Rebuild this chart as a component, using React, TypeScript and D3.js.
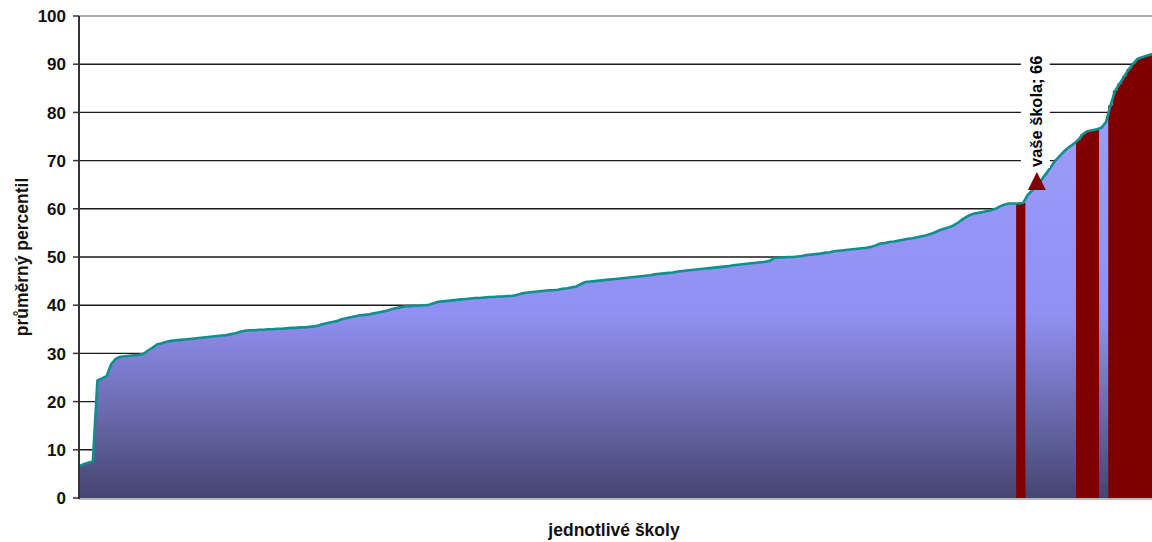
import React from "react";
import * as d3 from "d3";

// average percentile of each school, sorted ascending
const schoolValues: number[] = [
  6.6, 7.0, 7.3, 7.6, 24.4, 24.8, 25.3, 27.8, 28.9, 29.3,
  29.4, 29.5, 29.6, 29.7, 29.9, 30.6, 31.2, 31.9, 32.1, 32.4,
  32.6, 32.7, 32.8, 32.9, 33.0, 33.1, 33.2, 33.3, 33.4, 33.5,
  33.6, 33.7, 33.8, 34.0, 34.2, 34.5, 34.7, 34.8, 34.8, 34.9,
  34.9, 35.0, 35.0, 35.1, 35.1, 35.2, 35.3, 35.3, 35.4, 35.4,
  35.5, 35.6, 35.8, 36.1, 36.3, 36.5, 36.7, 37.1, 37.3, 37.5,
  37.7, 37.9, 38.0, 38.1, 38.3, 38.5, 38.7, 38.9, 39.2, 39.4,
  39.6, 39.8, 39.8, 39.9, 39.9, 40.0, 40.1, 40.4, 40.7, 40.8,
  40.9, 41.0, 41.1, 41.2, 41.3, 41.4, 41.5, 41.5, 41.6, 41.7,
  41.7, 41.8, 41.8, 41.9, 41.9, 42.1, 42.4, 42.6, 42.7, 42.8,
  42.9, 43.0, 43.1, 43.1, 43.2, 43.4, 43.5, 43.7, 43.9, 44.4,
  44.8, 44.9, 45.0, 45.1, 45.2, 45.3, 45.4, 45.5, 45.6, 45.7,
  45.8, 45.9, 46.0, 46.1, 46.2, 46.4, 46.5, 46.6, 46.7, 46.8,
  47.0, 47.1, 47.2, 47.3, 47.4, 47.5, 47.6, 47.7, 47.8, 47.9,
  48.0, 48.1, 48.3, 48.4, 48.5, 48.6, 48.7, 48.8, 48.9, 49.0,
  49.2, 49.8, 49.9, 49.9, 50.0, 50.0, 50.1, 50.2, 50.4, 50.5,
  50.6, 50.7, 50.9, 51.0, 51.2, 51.3, 51.4, 51.5, 51.6, 51.7,
  51.8, 51.9, 52.1, 52.4, 52.8, 52.9, 53.1, 53.2, 53.4, 53.6,
  53.8, 53.9, 54.1, 54.3, 54.5, 54.8, 55.2, 55.6, 55.9, 56.2,
  56.6, 57.2, 57.9, 58.5, 58.9, 59.1, 59.3, 59.5, 59.7, 60.0,
  60.5, 60.9, 61.1, 61.1, 61.1, 61.2, 62.9, 63.8, 64.9, 66.0,
  67.3, 68.6, 70.0, 71.0, 72.0, 72.8, 73.5, 74.3, 75.5, 76.1,
  76.3, 76.5, 76.8, 78.0, 81.5, 84.5, 86.0, 87.5, 89.0, 90.2,
  91.2, 91.5, 91.8, 92.1,
];

// schools highlighted in dark red
const highlighted: number[] = [
  204, 205,
  217, 218, 219, 220, 221,
  224, 225, 226, 227, 228, 229, 230, 231, 232, 233,
];

const yourSchoolIndex = 208;
const yourSchoolValue = 66;
const yourSchoolLabel = "vaše škola; 66";

const yTicks: number[] = [0, 10, 20, 30, 40, 50, 60, 70, 80, 90, 100];
const yTitle = "průměrný percentil";
const xTitle = "jednotlivé školy";

const W = 1152;
const H = 542;
const left = 79;
const right = 1152;
const top = 16;
const bottom = 498;
const FONT = "'Liberation Sans', Arial, sans-serif";

export default function App() {
  const n = schoolValues.length;
  const x = d3.scaleLinear().domain([0, n - 1]).range([left, right]);
  const y = d3.scaleLinear().domain([0, 100]).range([bottom, top]);
  const step = x(1) - x(0);

  const area = d3
    .area<number>()
    .x((_, i) => x(i))
    .y0(y(0))
    .y1((d) => y(d));
  const line = d3
    .line<number>()
    .x((_, i) => x(i))
    .y((d) => y(d));

  // group contiguous highlighted schools into runs drawn as one shape
  const runs: number[][] = [];
  highlighted.forEach((i) => {
    const last = runs[runs.length - 1];
    if (last && last[last.length - 1] === i - 1) last.push(i);
    else runs.push([i]);
  });
  const runPath = (run: number[]) => {
    const x0 = Math.max(left, x(run[0]) - step / 2);
    const x1 = Math.min(right, x(run[run.length - 1]) + step / 2);
    let d = `M${x0},${y(0)}`;
    run.forEach((i) => {
      const a = Math.max(left, x(i) - step / 2);
      const b = Math.min(right, x(i) + step / 2);
      d += ` L${a},${y(schoolValues[i])} L${b},${y(schoolValues[i])}`;
    });
    d += ` L${x1},${y(0)} Z`;
    return d;
  };

  const mx = x(yourSchoolIndex);
  const my = y(yourSchoolValue);

  return (
    <svg
      width={W}
      height={H}
      style={{ position: "absolute", left: 0, top: 0, background: "#fff" }}
    >
      <defs>
        <linearGradient
          id="fillGrad"
          gradientUnits="userSpaceOnUse"
          x1={0}
          x2={0}
          y1={y(100)}
          y2={y(0)}
        >
          <stop offset="0" stopColor="#a2a2ff" />
          <stop offset="0.62" stopColor="#9090f2" />
          <stop offset="0.82" stopColor="#6a6aae" />
          <stop offset="1" stopColor="#454571" />
        </linearGradient>
      </defs>

      {/* gridlines */}
      {yTicks
        .filter((t) => t > 0)
        .map((t) => (
          <line
            key={"g" + t}
            x1={left}
            x2={right}
            y1={y(t)}
            y2={y(t)}
            stroke={t === 100 ? "#909090" : "#1a1a1a"}
            strokeWidth={1.4}
          />
        ))}

      {/* area */}
      <path d={area(schoolValues) || ""} fill="url(#fillGrad)" />

      {/* highlighted schools */}
      {runs.map((run, k) => (
        <path key={"h" + k} d={runPath(run)} fill="#800000" />
      ))}

      {/* line */}
      <path
        d={line(schoolValues) || ""}
        fill="none"
        stroke="#10908c"
        strokeWidth={2.6}
        strokeLinejoin="round"
      />

      {/* label box */}
      <rect x={mx - 16} y={50} width={29} height={118} fill="#fff" />
      <text
        transform={`translate(${mx + 5},${y(yourSchoolValue) - 13}) rotate(-90)`}
        fontFamily={FONT}
        fontWeight="bold"
        fontSize={16.4}
        fill="#000"
      >
        {yourSchoolLabel}
      </text>

      {/* your school marker */}
      <path
        d={`M${mx},${my - 8} L${mx + 9},${my + 10} L${mx - 9},${my + 10} Z`}
        fill="#800000"
      />

      {/* axes */}
      <line x1={left} x2={right} y1={bottom + 1} y2={bottom + 1} stroke="#a0a0a0" strokeWidth={1.5} />
      <line x1={left} x2={left} y1={top} y2={bottom + 1} stroke="#333" strokeWidth={2} />
      {yTicks.map((t) => (
        <g key={"t" + t}>
          <line x1={left - 6} x2={left} y1={y(t)} y2={y(t)} stroke="#333" strokeWidth={1.5} />
          <text
            x={66}
            y={y(t)}
            dy="0.36em"
            textAnchor="end"
            fontFamily={FONT}
            fontWeight="bold"
            fontSize={17}
            fill="#111"
          >
            {t}
          </text>
        </g>
      ))}

      {/* axis titles */}
      <text
        transform={`translate(28,${(top + bottom) / 2}) rotate(-90)`}
        textAnchor="middle"
        fontFamily={FONT}
        fontWeight="bold"
        fontSize={17.5}
        fill="#111"
      >
        {yTitle}
      </text>
      <text
        x={614}
        y={536}
        textAnchor="middle"
        fontFamily={FONT}
        fontWeight="bold"
        fontSize={17.5}
        fill="#111"
      >
        {xTitle}
      </text>
    </svg>
  );
}
